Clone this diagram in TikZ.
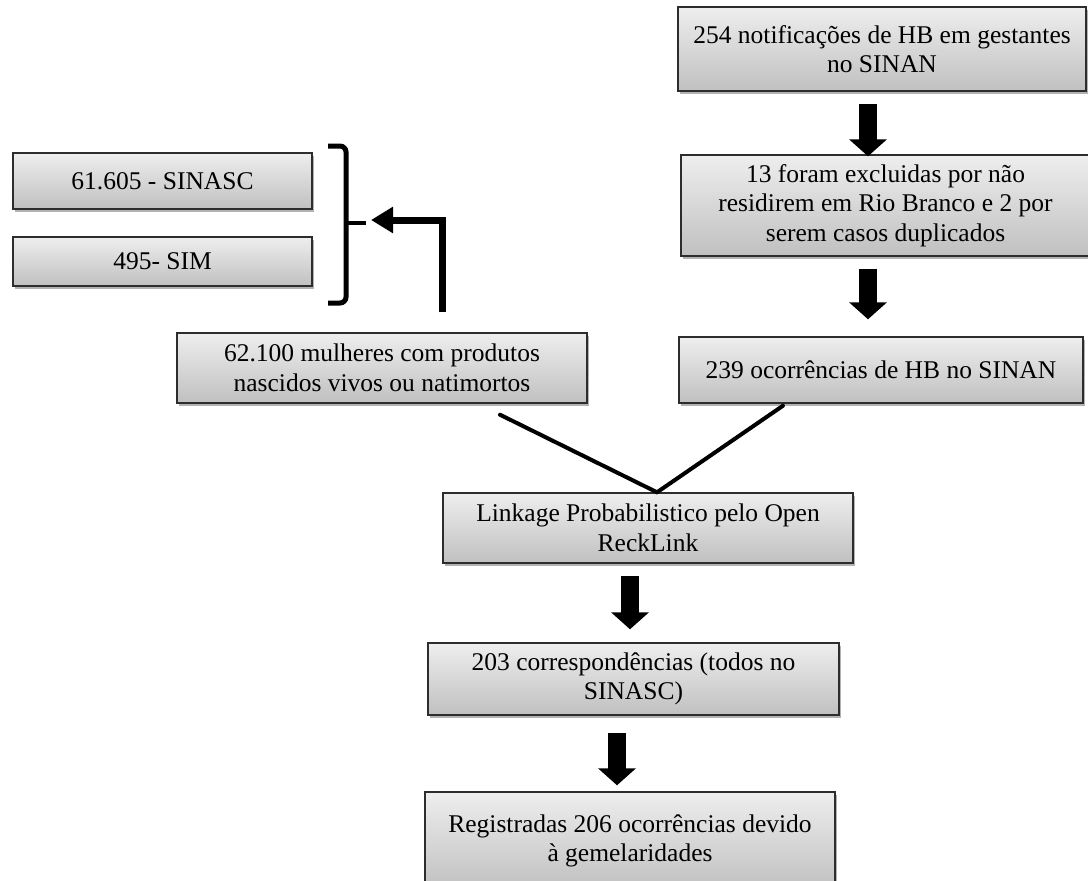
\documentclass[tikz,border=0pt]{standalone}
\usepackage{fontspec}
\setmainfont{Liberation Serif}
\usetikzlibrary{arrows.meta,shadows,calc}
\definecolor{boxtop}{RGB}{238,238,238}
\definecolor{boxbot}{RGB}{192,192,192}
\definecolor{boxline}{RGB}{45,45,45}
\begin{document}
\begin{tikzpicture}[x=1pt,y=-1pt,
  flowbox/.style={draw=boxline, line width=1.4pt, top color=boxtop, bottom color=boxbot,
    inner sep=0pt, align=center, font=\fontsize{25.5}{29.5}\selectfont,
    drop shadow={shadow xshift=2pt, shadow yshift=-3pt, fill=black, opacity=0.3}},
  blk/.style={line width=18pt, -{Triangle[width=37pt,length=17pt]}},
  joinline/.style={line width=4pt, line cap=round},
  bentarrow/.style={line width=7pt, -{Triangle[width=25pt,length=22pt]}},
  bracketline/.style={line width=5pt, rounded corners=6pt}
]
\useasboundingbox (0,0) rectangle (1088,881);

% right column
\node[flowbox, minimum width=408pt, minimum height=84pt] (b1) at (882,49)
  {254 notificações de HB em gestantes\\no SINAN};
\node[flowbox, minimum width=409pt, minimum height=101pt] (b2) at (885.5,205.5)
  {13 foram excluidas por não\\residirem em Rio Branco e 2 por\\serem casos duplicados};
\node[flowbox, minimum width=404pt, minimum height=66pt] (b3) at (881,370)
  {239 ocorrências de HB no SINAN};

% left column
\node[flowbox, minimum width=299pt, minimum height=56pt] (b4) at (162.5,181)
  {61.605 - SINASC};
\node[flowbox, minimum width=299pt, minimum height=49pt] (b5) at (162.5,261.5)
  {495- SIM};
\node[flowbox, minimum width=410pt, minimum height=70pt] (b6) at (382,368)
  {62.100 mulheres com produtos\\nascidos vivos ou natimortos};

% centre column
\node[flowbox, minimum width=410pt, minimum height=70pt] (b7) at (648,528)
  {Linkage Probabilistico pelo Open\\ReckLink};
\node[flowbox, minimum width=411pt, minimum height=72pt] (b8) at (633.5,679)
  {203 correspondências (todos no\\SINASC)};
\node[flowbox, minimum width=410pt, minimum height=98pt] (b9) at (630,841)
  {Registradas 206 ocorrências devido\\à gemelaridades};

% block arrows
\draw[blk] ($(b1.south)+(-14,12)$) -- ($(b2.north)+(-17.5,2)$);
\draw[blk] ($(b2.south)+(-17.5,12)$) -- ($(b3.north)+(-13,-17)$);
\draw[blk] ($(b7.south)+(-18,12)$) -- ($(b8.north)+(-3.5,-13)$);
\draw[blk] ($(b8.south)+(-16.5,17)$) -- ($(b9.north)+(-13,-6)$);

% merging lines
\coordinate (m) at ($(b7.north)+(9,0)$);
\draw[joinline] ($(b6.south)+(118,11)$) -- (m);
\draw[joinline] ($(b3.south)+(-98,2)$) -- (m);

% bracket
\draw[bracketline] (328,146) -- (346,146) -- (346,303) -- (328,303);
\coordinate (brk) at (346,223);
\draw[line width=4.5pt] (brk) -- ++(20,0);

% bent arrow
\coordinate (btip) at (371,220);
\draw[bentarrow] ($(b6.north)+(60,-20)$) |- (btip);
\end{tikzpicture}
\end{document}
